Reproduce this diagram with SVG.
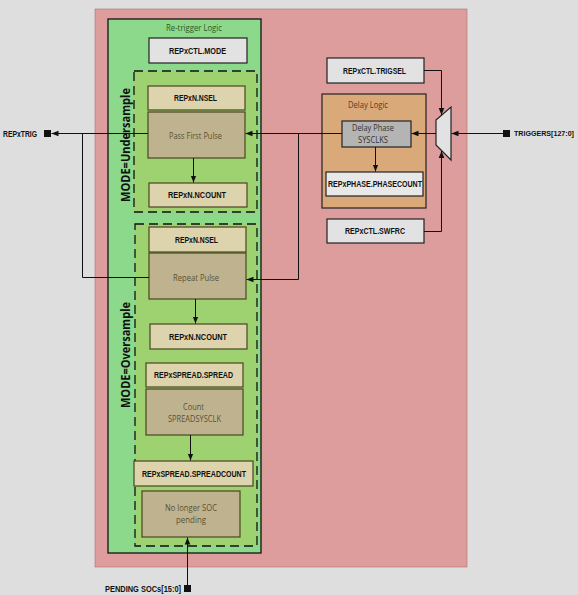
<svg xmlns="http://www.w3.org/2000/svg" width="578" height="595" viewBox="0 0 578 595">
<defs>
<style>
.lbl{font-family:"Liberation Sans",Arial,sans-serif;font-size:8.5px;font-weight:bold;fill:#111;text-anchor:middle;dominant-baseline:central}
.txt{font-family:"Open Sans","Liberation Sans",sans-serif;font-size:8.5px;fill:#5a5030;text-anchor:middle;dominant-baseline:central}
.reg{fill:#e2e2e2;stroke:#222;stroke-width:1.2}
.tl{fill:#ddd3ad;stroke:#4a4620;stroke-width:1.2}
.td{fill:#bfb38f;stroke:#4a4620;stroke-width:1.2}
.dash{fill:#9ed16f;stroke:#111;stroke-width:1.3;stroke-dasharray:9,5}
.mode{font-family:"Open Sans","Liberation Sans",sans-serif;font-size:13px;font-weight:bold;fill:#111;text-anchor:middle;dominant-baseline:central}
.ln{fill:none;stroke:#111;stroke-width:1}
</style>
<marker id="ah" viewBox="0 0 10 10" refX="10" refY="5" markerWidth="7" markerHeight="7" orient="auto" markerUnits="userSpaceOnUse"><path d="M0,1 L10,5 L0,9 z" fill="#111"/></marker>
</defs>
<rect x="0" y="0" width="578" height="595" fill="#dedede"/>
<rect x="95" y="9" width="372" height="558" fill="#dd9d9d" stroke="#b07070" stroke-width="0.6"/>

<g id="retrigger">
<rect x="108" y="19" width="153" height="534" fill="#8cd98c" stroke="#111" stroke-width="1.3"/>
<text x="194" y="27" class="txt" style="fill:#2a5a2a" textLength="56" lengthAdjust="spacingAndGlyphs">Re-trigger Logic</text>
</g>
<g id="ctl-mode"><rect x="149" y="38" width="98" height="25" class="reg"/><text x="197.5" y="50.5" class="lbl" textLength="57" lengthAdjust="spacingAndGlyphs">REPxCTL.MODE</text></g>

<g id="undersample">
<rect x="134" y="71" width="123" height="141" class="dash"/>
<text class="mode" transform="translate(125,145) rotate(-90)" textLength="114" lengthAdjust="spacingAndGlyphs">MODE=Undersample</text>
</g>
<g id="u-nsel"><rect x="148" y="86" width="97" height="24" class="tl"/><text x="195.5" y="98" class="lbl" textLength="43" lengthAdjust="spacingAndGlyphs">REPxN.NSEL</text></g>
<g id="pass-first"><rect x="148" y="112" width="97" height="46" class="td"/><text x="195.5" y="135" class="txt" textLength="53" lengthAdjust="spacingAndGlyphs">Pass First Pulse</text></g>
<g id="u-ncount"><rect x="149" y="183" width="98" height="24" class="tl"/><text x="197" y="195" class="lbl" textLength="58" lengthAdjust="spacingAndGlyphs">REPxN.NCOUNT</text></g>

<g id="oversample">
<rect x="135" y="224" width="122" height="322" class="dash"/>
<text class="mode" transform="translate(125,355) rotate(-90)" textLength="106" lengthAdjust="spacingAndGlyphs">MODE=Oversample</text>
</g>
<g id="o-nsel"><rect x="149" y="227" width="97" height="25" class="tl"/><text x="196.5" y="239.5" class="lbl" textLength="43" lengthAdjust="spacingAndGlyphs">REPxN.NSEL</text></g>
<g id="repeat"><rect x="149" y="253" width="97" height="46" class="td"/><text x="196" y="277" class="txt" textLength="46" lengthAdjust="spacingAndGlyphs">Repeat Pulse</text></g>
<g id="o-ncount"><rect x="150" y="324" width="97" height="25" class="tl"/><text x="198" y="336.5" class="lbl" textLength="58" lengthAdjust="spacingAndGlyphs">REPxN.NCOUNT</text></g>
<g id="spread"><rect x="146" y="363" width="97" height="24" class="tl"/><text x="193.5" y="375" class="lbl" textLength="79" lengthAdjust="spacingAndGlyphs">REPxSPREAD.SPREAD</text></g>
<g id="count"><rect x="146" y="389" width="97" height="46" class="td"/><text x="193.5" y="406.5" class="txt" textLength="21" lengthAdjust="spacingAndGlyphs">Count</text><text x="194.5" y="418" class="txt" textLength="53" lengthAdjust="spacingAndGlyphs">SPREADSYSCLK</text></g>
<g id="spreadcount"><rect x="134" y="461" width="119" height="25" class="tl"/><text x="194" y="473.5" class="lbl" textLength="104" lengthAdjust="spacingAndGlyphs">REPxSPREAD.SPREADCOUNT</text></g>
<g id="nolonger"><rect x="142" y="491" width="98" height="46" class="td"/><text x="191" y="507.5" class="txt" textLength="52" lengthAdjust="spacingAndGlyphs">No longer SOC</text><text x="191" y="519" class="txt" textLength="30" lengthAdjust="spacingAndGlyphs">pending</text></g>

<g id="delay-logic">
<rect x="322" y="94" width="104" height="114" fill="#daa97a" stroke="#222" stroke-width="1.2"/>
<text x="368" y="104" class="txt" style="fill:#5a3a1a" textLength="40" lengthAdjust="spacingAndGlyphs">Delay Logic</text>
</g>
<g id="delay-phase"><rect x="342" y="121" width="69" height="26" fill="#b4b4b4" stroke="#222" stroke-width="1.2"/><text x="373" y="127.5" class="txt" style="fill:#333" textLength="42" lengthAdjust="spacingAndGlyphs">Delay Phase</text><text x="373" y="139.5" class="txt" style="fill:#333" textLength="30" lengthAdjust="spacingAndGlyphs">SYSCLKS</text></g>
<g id="phasecount"><rect x="326" y="172" width="97" height="24" fill="#e8e8e8" stroke="#222" stroke-width="1.2"/><text x="375" y="184" class="lbl" textLength="94" lengthAdjust="spacingAndGlyphs">REPxPHASE.PHASECOUNT</text></g>
<g id="trigsel"><rect x="327" y="58" width="97" height="25" class="reg"/><text x="374.5" y="70.5" class="lbl" textLength="63" lengthAdjust="spacingAndGlyphs">REPxCTL.TRIGSEL</text></g>
<g id="swfrc"><rect x="327" y="219" width="97" height="24" class="reg"/><text x="375" y="231" class="lbl" textLength="60" lengthAdjust="spacingAndGlyphs">REPxCTL.SWFRC</text></g>
<g id="mux"><polygon points="436,120 451,107 451,160 436,145" fill="#e2e2e2" stroke="#222" stroke-width="1.2"/></g>

<g id="ports">
<rect x="503" y="130" width="7" height="7" fill="#111"/>
<text x="514" y="133.5" class="lbl" style="text-anchor:start;font-size:7.4px" textLength="60" lengthAdjust="spacingAndGlyphs">TRIGGERS[127:0]</text>
<rect x="44" y="130" width="7" height="7" fill="#111"/>
<text x="3" y="133.5" class="lbl" style="text-anchor:start" textLength="34" lengthAdjust="spacingAndGlyphs">REPxTRIG</text>
<rect x="184" y="585" width="7" height="7" fill="#111"/>
<text x="105" y="588.5" class="lbl" style="text-anchor:start" textLength="76" lengthAdjust="spacingAndGlyphs">PENDING SOCs[15:0]</text>
</g>

<g id="connectors">
<path class="ln" d="M503,133.5 H451.5" marker-end="url(#ah)"/>
<path class="ln" d="M436,133.5 H411.5" marker-end="url(#ah)"/>
<path class="ln" d="M424,70.5 H441.5 V115" marker-end="url(#ah)"/>
<path class="ln" d="M424,231.5 H441.5 V151" marker-end="url(#ah)"/>
<path class="ln" d="M342,133.5 H245.5" marker-end="url(#ah)"/>
<path class="ln" d="M298.5,133.5 V279.5 H246.5" marker-end="url(#ah)"/>
<path class="ln" d="M148,133.5 H51.5" marker-end="url(#ah)"/>
<path class="ln" d="M82.5,133.5 V277.5 H149"/>
<path class="ln" d="M375.5,147 V171.5" marker-end="url(#ah)"/>
<path class="ln" d="M193.5,158 V182.5" marker-end="url(#ah)"/>
<path class="ln" d="M195.5,299 V323.5" marker-end="url(#ah)"/>
<path class="ln" d="M190.5,435 V460.5" marker-end="url(#ah)"/>
<path class="ln" d="M187.5,585 V537.5" marker-end="url(#ah)"/>
</g>
</svg>
